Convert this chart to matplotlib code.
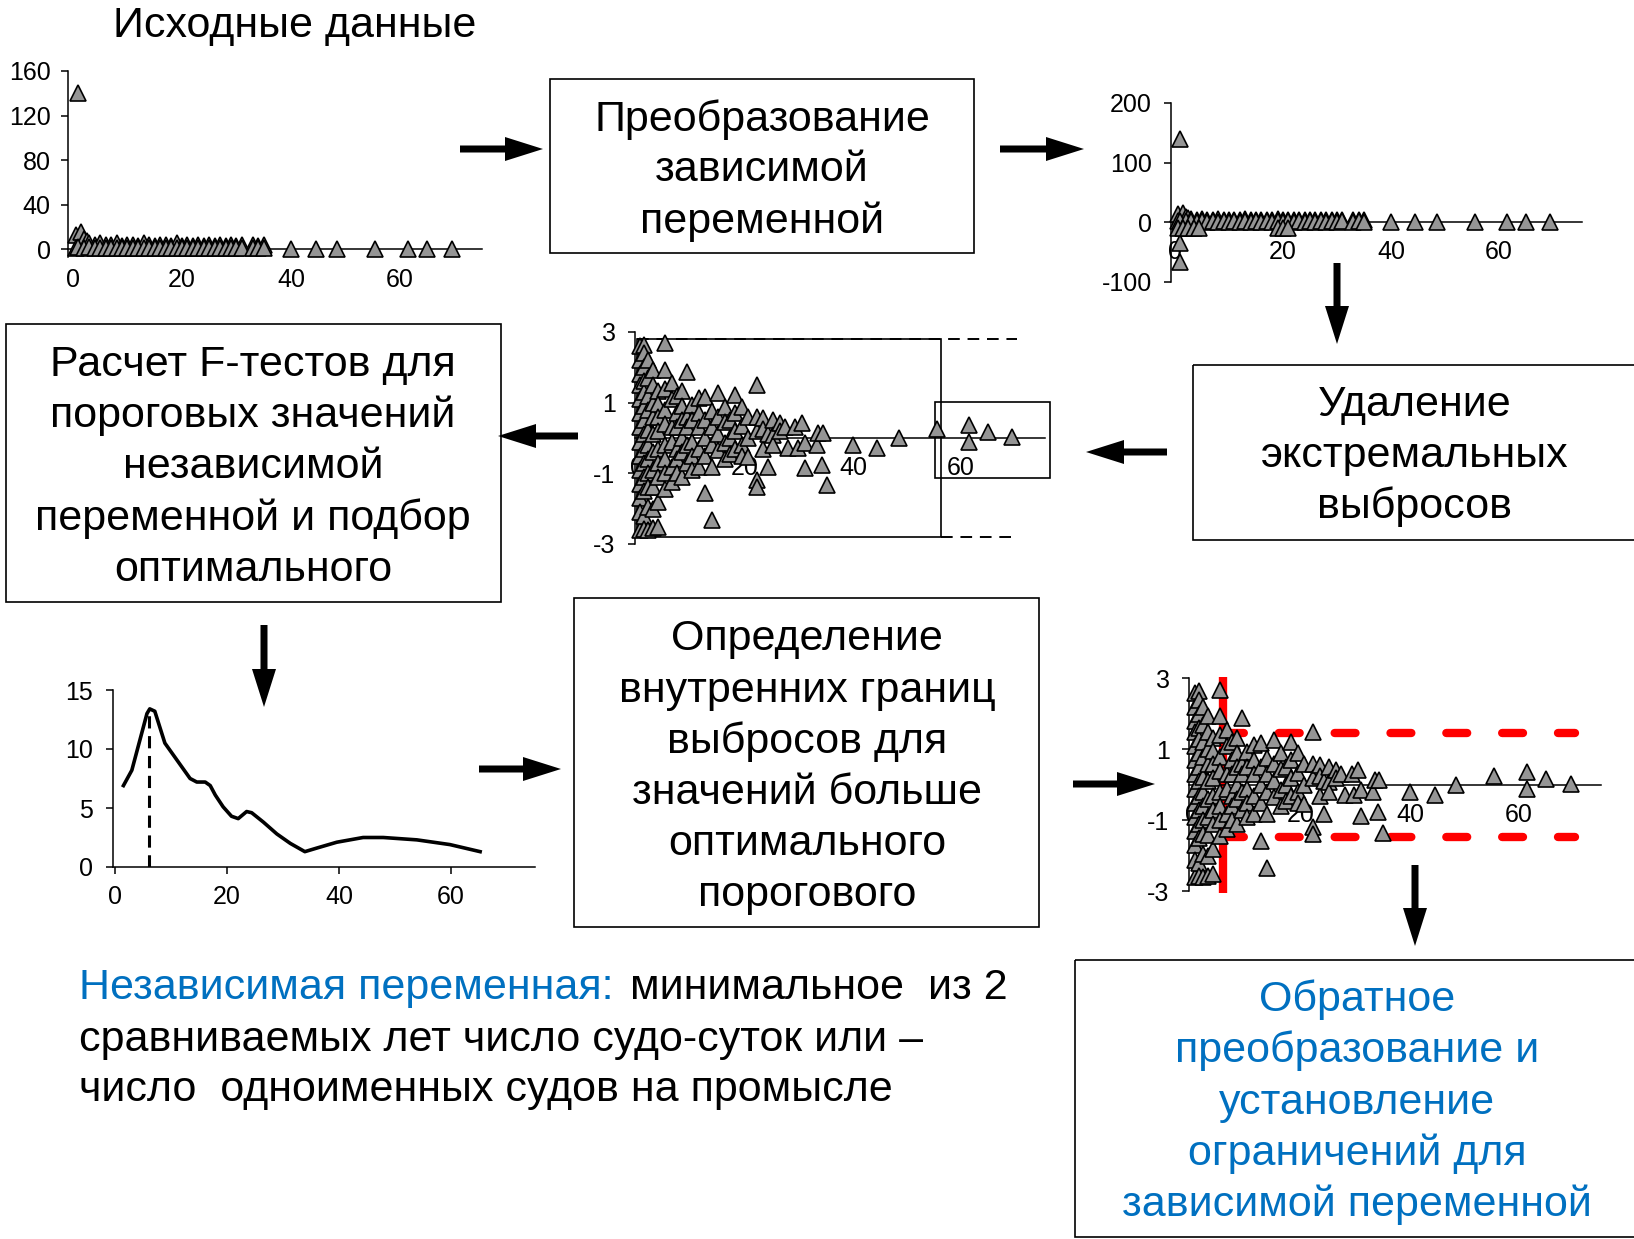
import matplotlib.pyplot as plt
from matplotlib.patches import Rectangle, FancyArrow

plt.rcParams['font.family'] = ['Liberation Sans', 'DejaVu Sans']
plt.rcParams['axes.unicode_minus'] = False

W, H = 1634, 1239
BLUE = '#0070C0'
TRI = '#959595'

# --- исходные данные (панель 1) ---
raw_x = [1, 0.5, 1.5, 2, 2.5, 3,
         4, 5, 6, 7, 8, 9, 10, 11, 12, 13, 14, 15, 16, 17,
         18, 19, 20, 21, 22, 23, 24, 25, 26, 27, 28, 29, 30, 31,
         33, 34, 35,
         0.5, 1, 2, 3,
         4, 5, 6, 7, 8, 9, 10, 11, 12, 13, 14, 15, 16, 17,
         18, 19, 20, 21, 22, 23, 24, 25, 26, 27, 28, 29, 30, 31,
         33, 34, 35,
         40, 44.5, 48.5, 55.5, 61.5, 65, 69.5]
raw_y = [140, 13, 15, 9, 7, 5,
         4, 5, 4, 4, 5, 3, 4, 4, 3, 5, 4, 3, 4, 4,
         3, 5, 3, 4, 3, 4, 3, 4, 3, 4, 3, 4, 3, 4,
         4, 3, 4,
         1, 2, 1, 1.5,
         0.5, 1, 0.5, 1, 0.5, 1, 0.5, 1, 0.5, 1, 0.5, 1, 0.5, 1,
         0.5, 1, 0.5, 1, 0.5, 1, 0.5, 1, 0.5, 1, 0.5, 1, 0.5, 1,
         0.5, 1, 0.5,
         0, 0, 0, 0, 0, 0, 0]

# --- преобразованная зависимая (панель 2): добавочные точки ---
trans_extra_x = [1, 1, 0.5, 1.5, 2.5, 3.5, 4.5, 19, 20, 21]
trans_extra_y = [-35, -67, -10, -10, -10, -10, -10, -10, -10, -10]

# --- стандартизованные остатки (панели 3 и 5) ---
res_x = [0.5] * 14 + [1.2] * 14 + [2.1] * 11 + [3.0] * 10 + [3.9] * 9 + [5.2] * 9 \
    + [6.4] * 6 + [7.3] * 6 + [8.3] * 6 + [9.2] * 5 + [10.1] * 5 + [11.4] * 5 \
    + [12.6] * 5 + [13.8] * 5 + [15.0] * 4 + [16.3] * 4 + [17.2] * 3 + [18.1] * 4 \
    + [19.4] * 4 + [20.6] * 3 + [22.2] * 5 + [23.4] * 3 + [24.2] * 2 + [25.2] * 3 \
    + [26.4] * 2 + [27.4, 28.0, 29.3, 29.8, 30.5, 31.1, 31.1, 33.3, 33.6, 34.2, 34.4, 35.1] \
    + [40, 44.5, 48.5, 55.5, 61.5, 61.5, 65, 69.5]
res_y = [2.6, 2.2, 1.8, 1.5, 1.1, 0.7, 0.3, -0.1, -0.5, -0.9, -1.3, -1.7, -2.1, -2.6,
         2.64, 2.4, 2.0, 1.6, 1.3, 0.9, 0.5, 0.1, -0.3, -0.7, -1.1, -1.5, -2.2, -2.57,
         2.2, 1.7, 1.2, 0.8, 0.23, -0.2, -0.6, -1.0, -1.38, -1.95, -2.6,
         1.93, 1.5, 1.0, 0.6, 0.1, -0.4, -0.9, -1.4, -2.0, -2.55,
         1.32, 0.95, 0.6, 0.2, -0.3, -0.7, -1.1, -1.81, -2.52,
         2.69, 1.93, 1.4, 0.8, 0.4, -0.2, -0.6, -1.0, -1.43,
         1.55, 1.1, 0.32, -0.1, -0.81, -1.25,
         1.2, 0.7, 0.3, -0.3, -0.6, -1.0,
         1.32, 0.9, 0.5, 0.0, -0.4, -1.1,
         1.88, 0.6, 0.32, -0.2, -0.7,
         0.94, 0.5, -0.1, -0.5, -0.9,
         1.13, 0.7, 0.3, -0.3, -0.81,
         1.17, 0.51, 0.0, -0.5, -1.57,
         0.75, 0.3, -0.2, -0.81, -2.33,
         1.27, 0.6, 0.1, -0.35,
         0.89, 0.45, -0.15, -0.6,
         0.5, 0.0, -0.45,
         1.22, 0.7, 0.2, -0.3,
         0.89, 0.35, -0.2, -0.5,
         0.6, 0.0, -0.53,
         1.5, 0.6, 0.2, -1.19, -1.38,
         0.56, 0.25, -0.3,
         -0.81, 0.1,
         0.5, 0.09, -0.2,
         0.42, 0.2,
         0.32, -0.29, 0.32, -0.29, 0.42, -0.15, -0.86, -0.2, 0.13, -0.77, 0.13, -1.34,
         -0.2, -0.29, 0.0, 0.25, 0.37, -0.12, 0.18, 0.03]

# --- F-тест по порогам (панель 4) ---
f_x = [1.5, 3.0, 5.7, 6.2, 7.1, 8.9, 11.0, 13.4, 14.6, 16.1, 17.0, 17.9, 19.3, 20.8,
       22.0, 23.5, 24.4, 26.5, 28.9, 31.3, 33.9, 36.0, 39.6, 44.3, 47.9, 53.9, 59.8, 65.2]
f_y = [6.9, 8.2, 13.0, 13.4, 13.2, 10.5, 9.1, 7.5, 7.2, 7.2, 6.9, 6.1, 5.1, 4.3,
       4.1, 4.7, 4.6, 3.8, 2.8, 2.0, 1.3, 1.6, 2.1, 2.5, 2.5, 2.3, 1.9, 1.3]
opt_x = 6
opt_f = 13.3
limit_in = 2.8     # пунктир на панели 3
limit_out = 1.46   # красные границы на панели 5

box1_lines = ['Преобразование', 'зависимой', 'переменной']
box2_lines = ['Удаление', 'экстремальных', 'выбросов']
box3_lines = ['Расчет F-тестов для', 'пороговых значений', 'независимой',
              'переменной и подбор', 'оптимального']
box4_lines = ['Определение', 'внутренних границ', 'выбросов для',
              'значений больше', 'оптимального', 'порогового']
box5_lines = ['Обратное', 'преобразование и', 'установление',
              'ограничений для', 'зависимой переменной']

fig = plt.figure(figsize=(W / 100, H / 100), dpi=100)
base = fig.add_axes([0, 0, 1, 1])
base.set_xlim(0, W)
base.set_ylim(H, 0)
base.axis('off')


def panel(l, r, t, b, xlim, ylim, xpad=13, ypad=9):
    ax = fig.add_axes([l / W, 1 - b / H, (r - l) / W, (b - t) / H])
    ax.set_xlim(*xlim)
    ax.set_ylim(*ylim)
    ax.patch.set_alpha(0)
    for s in ['top', 'right']:
        ax.spines[s].set_visible(False)
    for s in ['left', 'bottom']:
        ax.spines[s].set_linewidth(1.1)
    ax.tick_params(axis='y', labelsize=18, width=1.1, length=5, pad=ypad)
    ax.tick_params(axis='x', labelsize=18, length=0, pad=xpad)
    ax.set_xticks([0, 20, 40, 60])
    return ax


def tri(ax, x, y):
    ax.plot(x, y, '^', ms=11, mfc=TRI, mec='k', mew=1.2, ls='none', clip_on=False, zorder=3)


# панель 1
ax1 = panel(67.5, 481.8, 71, 256.8, (-1, 75), (-7, 160), xpad=14, ypad=7)
ax1.spines['bottom'].set_position(('data', 0))
ax1.set_yticks([0, 40, 80, 120, 160])
tri(ax1, raw_x, raw_y)

# панель 2
ax2 = panel(1171.2, 1582, 103, 281.5, (-0.7, 75.4), (-100, 200))
ax2.spines['bottom'].set_position(('data', 0))
ax2.set_yticks([-100, 0, 100, 200])
tri(ax2, raw_x + trans_extra_x, raw_y + trans_extra_y)

# панель 3
ax3 = panel(635, 1045, 332, 544, (-0.4, 75.6), (-3, 3))
ax3.spines['bottom'].set_position(('data', 0))
ax3.set_yticks([-3, -1, 1, 3])
ax3.add_patch(Rectangle((0, -limit_in), 56.3, 2 * limit_in, fill=False, lw=1.2,
                        ec='k', clip_on=False))
ax3.add_patch(Rectangle((55.2, -1.14), 21.3, 2.16, fill=False, lw=1.2,
                        ec='k', clip_on=False))
ax3.plot([0, 70.5], [limit_in, limit_in], color='k', lw=1.4, dashes=(6, 4), clip_on=False)
ax3.plot([56.3, 70.5], [-limit_in, -limit_in], color='k', lw=1.4, dashes=(6, 4), clip_on=False)
tri(ax3, res_x, res_y)

# панель 4
ax4 = panel(112.8, 535, 690, 867, (-0.4, 75), (0, 15), xpad=8)
ax4.set_yticks([0, 5, 10, 15])
ax4.tick_params(axis='x', length=5, width=1.1, direction='out')
ax4.plot(f_x, f_y, color='k', lw=2.6, solid_joinstyle='round')
ax4.plot([opt_x, opt_x], [0, opt_f], color='k', lw=2.2, dashes=(4, 2.5))

# панель 5
ax5 = panel(1189, 1600.75, 678.5, 891.5, (-0.55, 75), (-3, 3))
ax5.spines['bottom'].set_position(('data', 0))
ax5.set_yticks([-3, -1, 1, 3])
ax5.plot([5.7, 5.7], [3.04, -3.04], color='red', lw=6, solid_capstyle='butt',
         clip_on=False, zorder=2)
for yy in [limit_out, -limit_out]:
    ax5.plot([5.7, 70.3], [yy, yy], color='red', lw=6, dashes=(2.5, 4.2),
             dash_capstyle='round', clip_on=False, zorder=2)
tri(ax5, res_x, res_y)

# блоки
boxes = [(550, 79, 974, 253, 762, [120, 170, 222], box1_lines, 'k'),
         (1193, 365, 1660, 540, 1415, [405, 456, 507], box2_lines, 'k'),
         (6, 324, 501, 602, 253, [365, 416, 467, 519, 570], box3_lines, 'k'),
         (574, 598, 1039, 927, 807, [639, 691, 742, 793, 844, 895], box4_lines, 'k'),
         (1075, 960, 1660, 1237, 1357, [1000, 1051, 1103, 1154, 1205], box5_lines, BLUE)]
for x0, y0, x1, y1, cx, ys, lines, col in boxes:
    base.add_patch(Rectangle((x0, y0), x1 - x0, y1 - y0, fill=False, ec='k', lw=1.2))
    for yy, s in zip(ys, lines):
        base.text(cx, yy, s, ha='center', va='center', fontsize=31, color=col)

base.text(295, 26, 'Исходные данные', ha='center', va='center', fontsize=31)

# стрелки
arrows = [(460, 149, 83, 0), (1000, 149, 84, 0), (1337, 263, 0, 81),
          (1167, 452, -81, 0), (578, 436, -80, 0), (264, 625, 0, 82),
          (479, 769, 82, 0), (1073, 784, 82, 0), (1415, 865, 0, 81)]
for x, y, dx, dy in arrows:
    base.add_patch(FancyArrow(x, y, dx, dy, width=7, head_width=24, head_length=38,
                              length_includes_head=True, color='k', lw=0))

# пояснение внизу
base.text(79, 988, 'Независимая переменная:', ha='left', va='center', fontsize=31, color=BLUE)
base.text(630, 988, 'минимальное  из 2', ha='left', va='center', fontsize=31)
base.text(79, 1040, 'сравниваемых лет число судо-суток или –', ha='left', va='center', fontsize=31)
base.text(79, 1090, 'число  одноименных судов на промысле', ha='left', va='center', fontsize=31)

fig.savefig('out.png', dpi=100)
